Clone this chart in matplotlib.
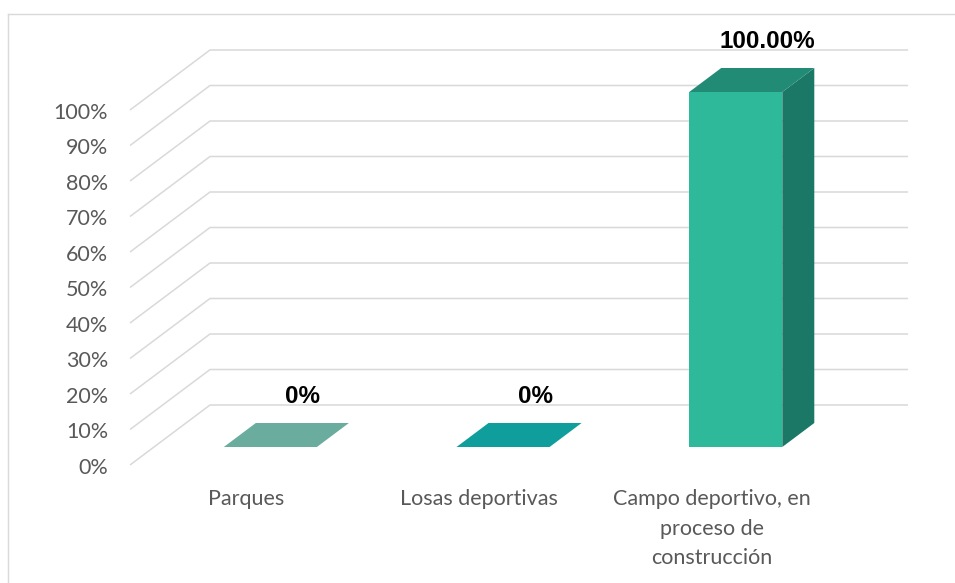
import matplotlib
matplotlib.use("Agg")
import matplotlib.pyplot as plt
from matplotlib.patches import Polygon
from matplotlib.lines import Line2D

# Data
categories = ["Parques", "Losas deportivas", "Campo deportivo, en\nproceso de\nconstrucción"]
values = [0.0, 0.0, 100.0]
value_labels = ["0%", "0%", "100.00%"]
tick_values = [0, 10, 20, 30, 40, 50, 60, 70, 80, 90, 100]
tick_labels = ["0%", "10%", "20%", "30%", "40%", "50%", "60%", "70%", "80%", "90%", "100%"]

# Face colours per bar (front, top, right side)
front_colors = ["#6aad9e", "#109e9c", "#2eb99b"]
top_colors = ["#6aad9e", "#109e9c", "#218b76"]
side_colors = ["#4f8f81", "#0b7f7d", "#1b7866"]

W, H = 955, 583
fig = plt.figure(figsize=(W / 100, H / 100), dpi=100)
ax = fig.add_axes([0, 0, 1, 1])

# Layout of the oblique "3-D" frame (pixels per category slot / per percent)
SLOT = 232.7
PCT = 3.55
ORIGIN_X, ORIGIN_Y = 130, 465
ax.set_xlim(-ORIGIN_X / SLOT, (W - ORIGIN_X) / SLOT)
ax.set_ylim(-(H - ORIGIN_Y) / PCT, ORIGIN_Y / PCT)
ax.axis("off")

DX = 80 / SLOT   # depth shift in category units
DY = 60 / PCT    # depth shift in percent units


def proj(x, v, d):
    """Oblique projection: category position x, value v, depth d (0 front .. 1 back)."""
    return (x + d * DX, v + d * DY)


grid_color = "#d9d9d9"
text_color = "#595959"
n = len(categories)

# Gridlines: diagonal on the side wall, horizontal on the back wall
for t in tick_values:
    pts = [proj(0, t, 0), proj(0, t, 1), proj(n, t, 1)]
    xs, ys = zip(*pts)
    ax.plot(xs, ys, color=grid_color, lw=1.1, zorder=1, solid_capstyle="butt")

# Value axis labels
for t, lab in zip(tick_values, tick_labels):
    ax.annotate(lab, xy=proj(0, t, 0), xytext=(-15.8, -2.0), textcoords="offset points",
                ha="right", va="center", fontsize=15.5, color=text_color, family="Lato")

# Bars as boxes: front depth 0.3, back depth 0.7, width 0.4 of a slot
D0, D1 = 0.3, 0.7
for i, v in enumerate(values):
    x0, x1 = i + 0.3, i + 0.7
    if v > 0:
        front = [proj(x0, 0, D0), proj(x1, 0, D0), proj(x1, v, D0), proj(x0, v, D0)]
        side = [proj(x1, 0, D0), proj(x1, 0, D1), proj(x1, v, D1), proj(x1, v, D0)]
        ax.add_patch(Polygon(front, closed=True, facecolor=front_colors[i], edgecolor="none", zorder=3))
        ax.add_patch(Polygon(side, closed=True, facecolor=side_colors[i], edgecolor="none", zorder=3))
    top = [proj(x0, v, D0), proj(x1, v, D0), proj(x1, v, D1), proj(x0, v, D1)]
    ax.add_patch(Polygon(top, closed=True, facecolor=top_colors[i], edgecolor="none", zorder=3))

    # Data label above the back edge of the bar top
    ax.annotate(value_labels[i], xy=proj(i + 0.5, v, D1), xytext=(0, 14.4),
                textcoords="offset points", ha="center", va="baseline",
                fontsize=17.5, fontweight="bold", color="black", family="Liberation Sans", zorder=4)

    # Category label under the front edge
    ax.annotate(categories[i], xy=proj(i + 0.5, 0, 0), xytext=(0, -17),
                textcoords="offset points", ha="center", va="top", linespacing=1.62,
                fontsize=15.5, color=text_color, family="Lato")

# Chart area border
fig.add_artist(Line2D([8 / W, 8 / W], [0, 1 - 14 / H], transform=fig.transFigure,
                      color=grid_color, lw=1.0))
fig.add_artist(Line2D([8 / W, 1], [1 - 14 / H, 1 - 14 / H], transform=fig.transFigure,
                      color=grid_color, lw=1.0))

fig.savefig("out.png", dpi=100, facecolor="white")
